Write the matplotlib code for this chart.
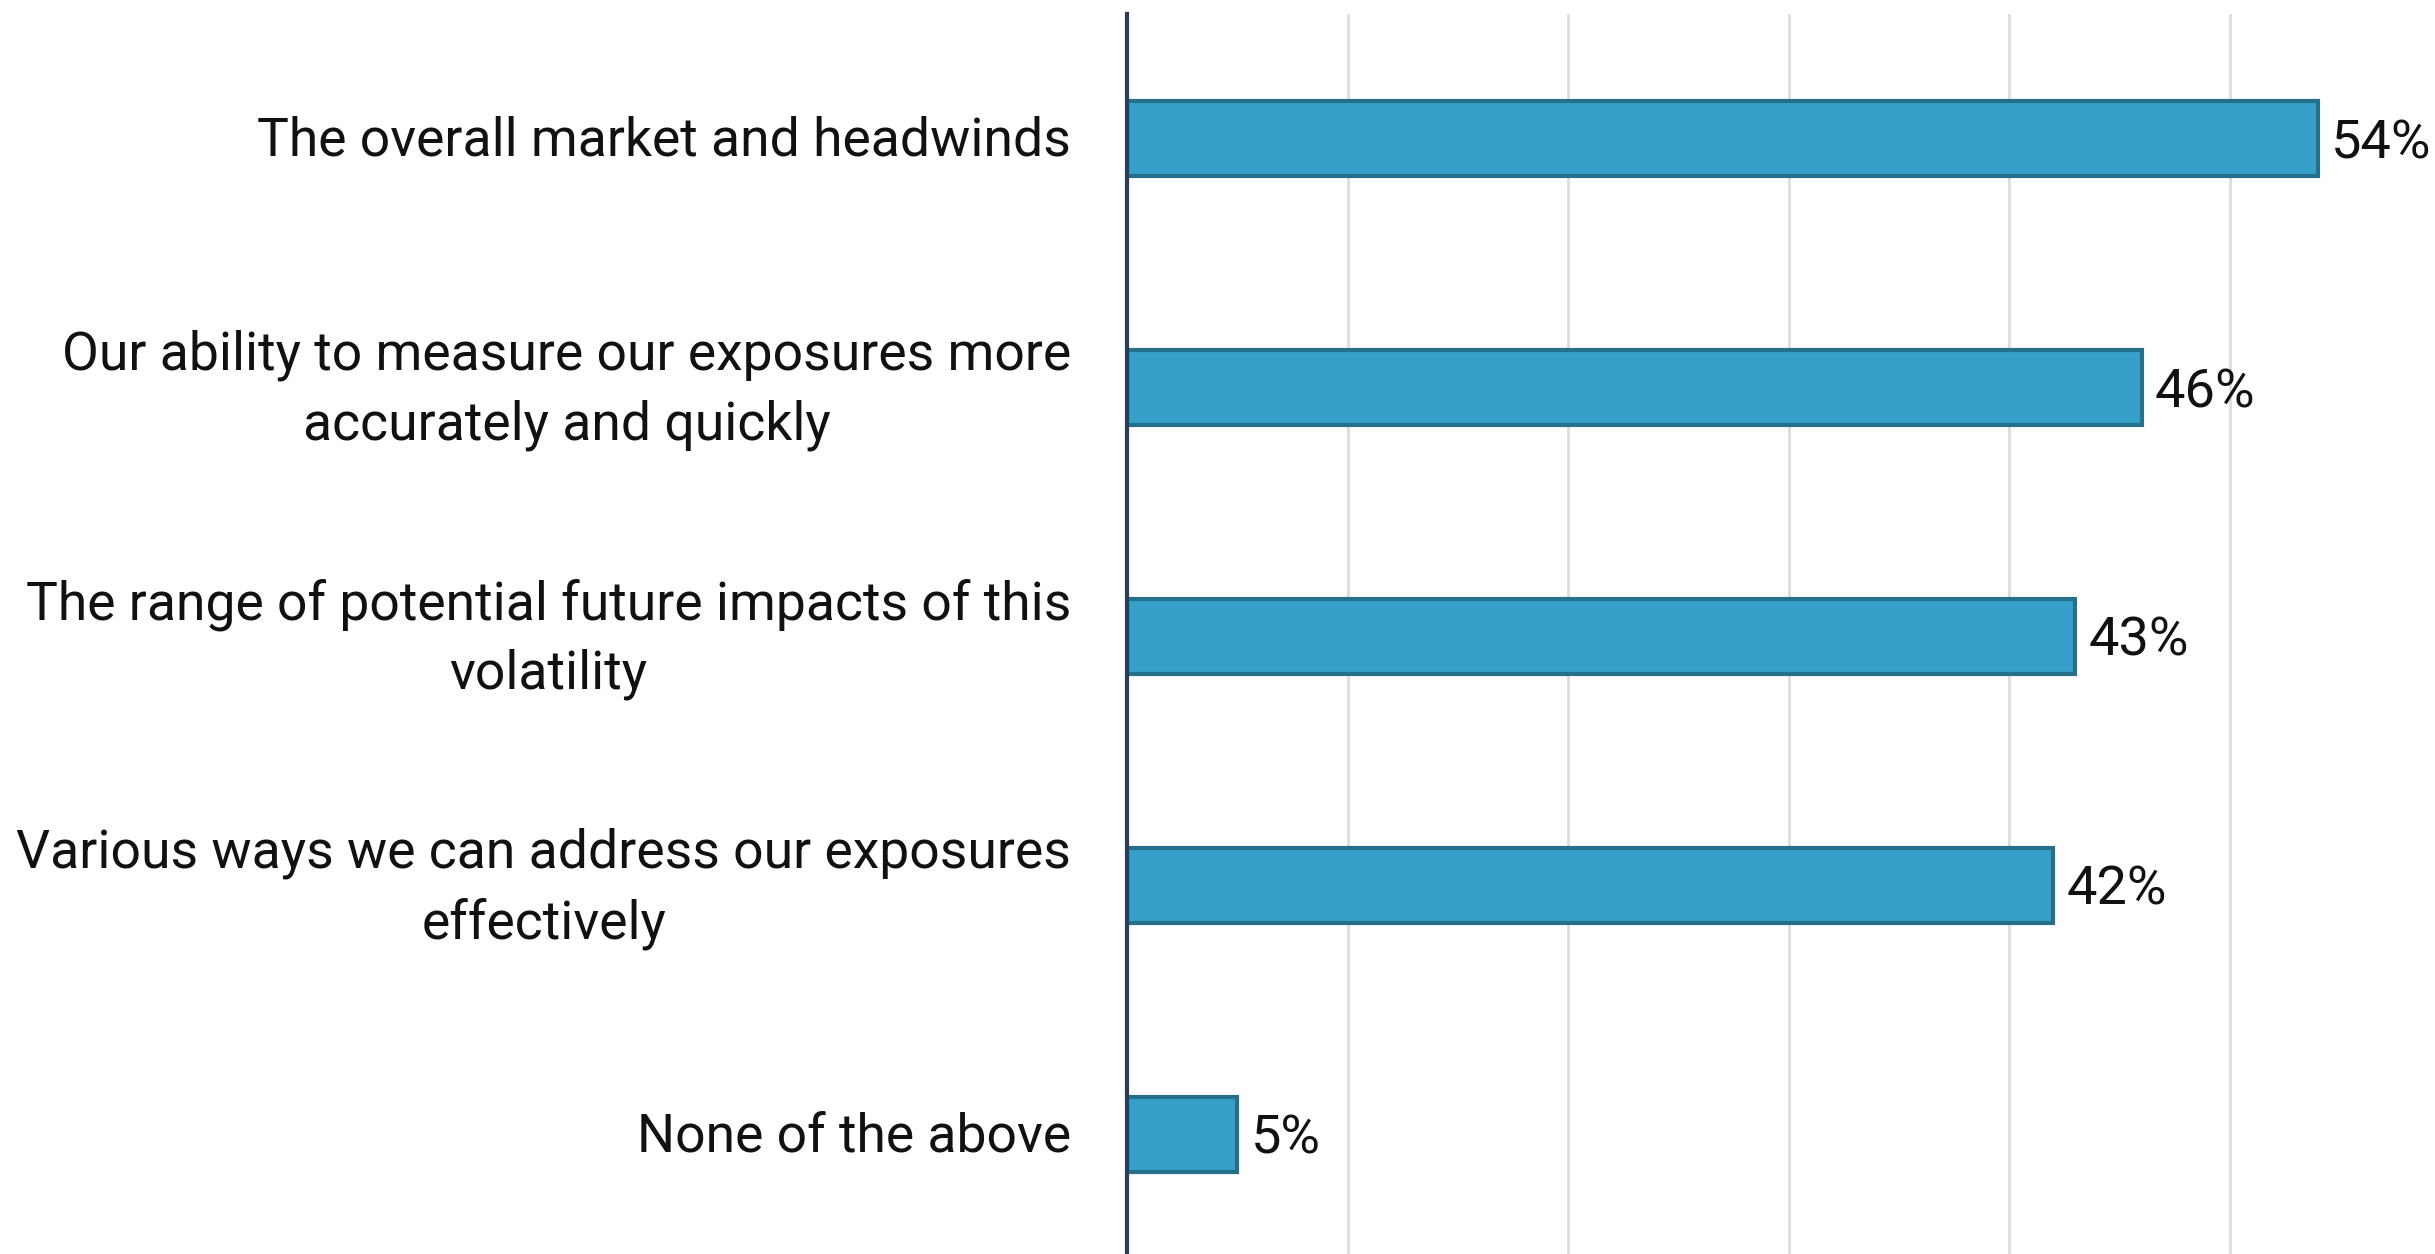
import matplotlib
matplotlib.use('Agg')
import matplotlib.pyplot as plt
import matplotlib.transforms as mtransforms

plt.rcParams['font.family'] = ['Roboto', 'DejaVu Sans']

categories = [
    "The overall market and headwinds",
    "Our ability to measure our exposures more\naccurately and quickly",
    "The range of potential future impacts of this\nvolatility",
    "Various ways we can address our exposures\neffectively",
    "None of the above",
]
values = [54, 46, 43, 42, 5]
grid_ticks = [10, 20, 30, 40, 50]

fig = plt.figure(figsize=(24.35, 12.54), dpi=100)
ax = fig.add_axes([0.4628, 0.0, 0.5372, 0.9888])

ypos = list(range(len(categories)))
ax.barh(ypos, values, height=0.30, color='#35A1CB', edgecolor='#27708C', linewidth=3, zorder=3)

# value labels to the right of each bar
for y, v in zip(ypos, values):
    ax.text(v + 0.6, y + 0.02, f"{v}%", va='center', ha='left', fontsize=39, color='#111111')

ax.set_xlim(0, 59.3)
ax.set_ylim(4.48, -0.5)
ax.set_xticks(grid_ticks)
ax.set_xticklabels([])
ax.tick_params(axis='x', length=0)
ax.grid(axis='x', color='#DDDDDD', linewidth=2, zorder=0)

ax.set_yticks(ypos)
ax.set_yticklabels(categories, fontsize=38.5, color='#111111', multialignment='center', linespacing=1.45)
ax.tick_params(axis='y', length=0, pad=40)

# nudge labels up a little so they sit centred on the bars
for lbl in ax.get_yticklabels():
    dy = 0.12 if '\n' in lbl.get_text() else 0.03
    lbl.set_transform(lbl.get_transform() + mtransforms.ScaledTranslation(0, dy, fig.dpi_scale_trans))

for s in ['top', 'right', 'bottom']:
    ax.spines[s].set_visible(False)
ax.spines['left'].set_color('#2E3B55')
ax.spines['left'].set_linewidth(3)
ax.spines['left'].set_zorder(4)

fig.savefig("out.png", dpi=100)
